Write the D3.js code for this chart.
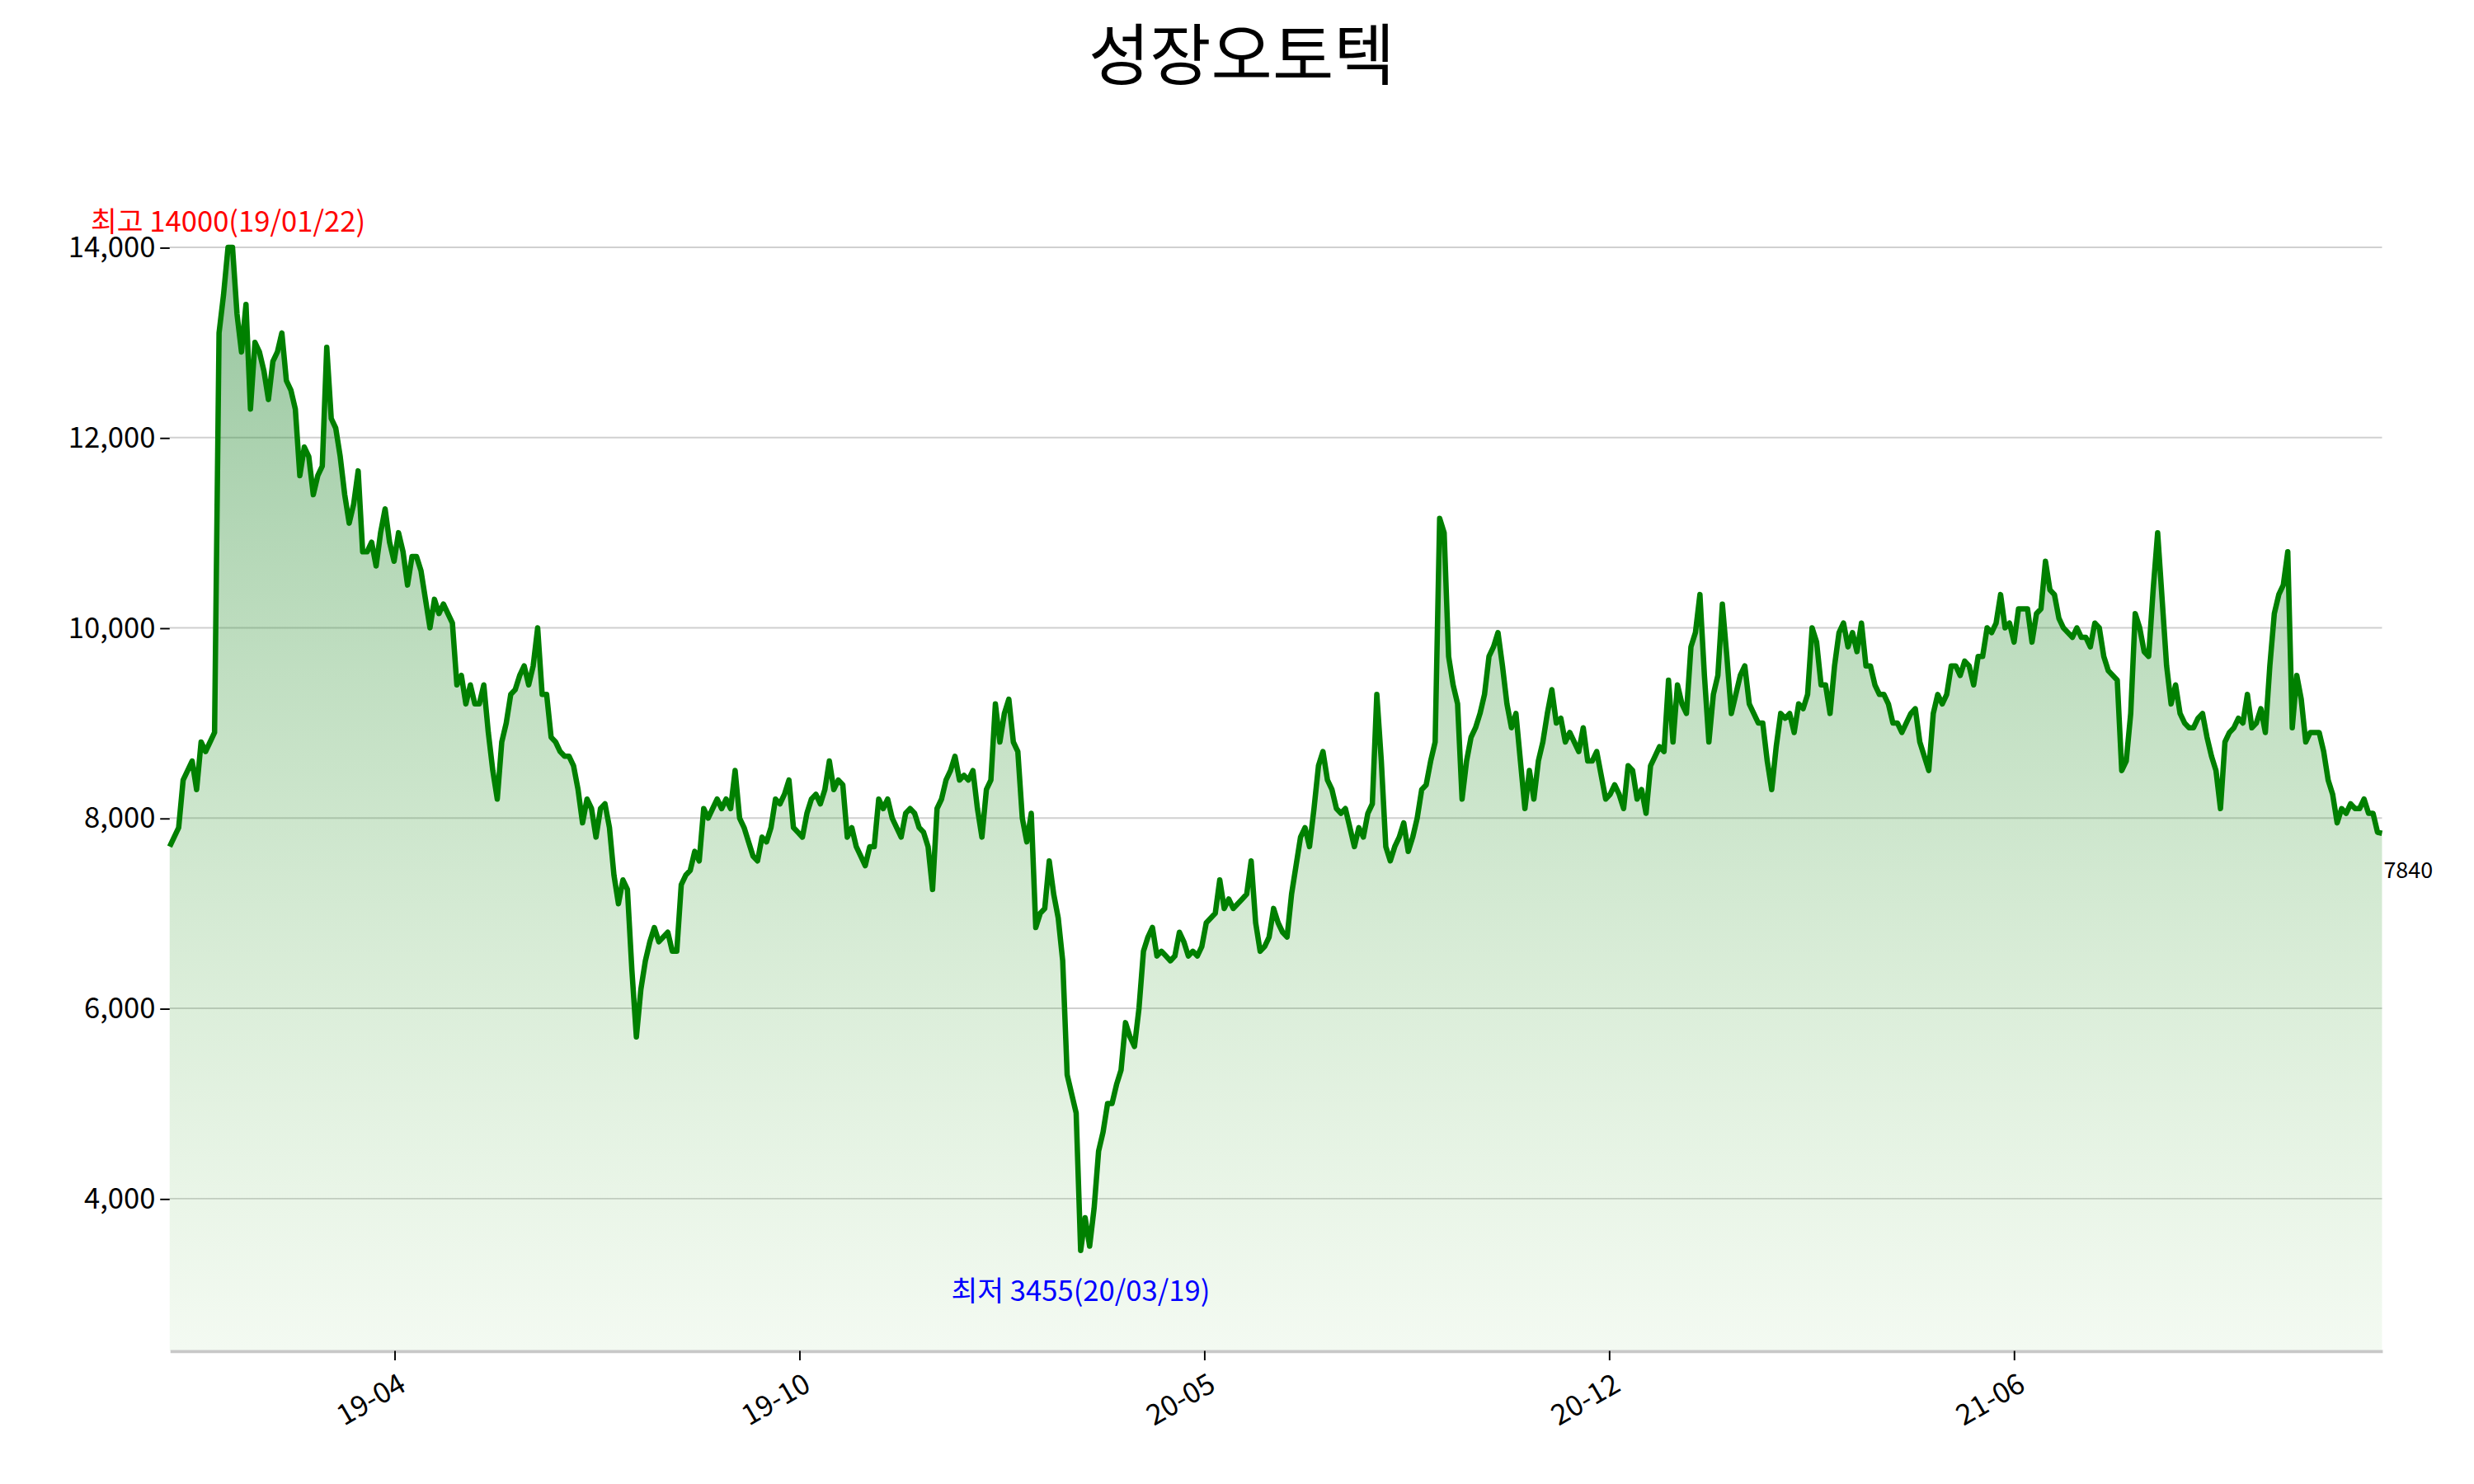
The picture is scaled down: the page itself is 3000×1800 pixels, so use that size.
<!DOCTYPE html>
<html>
<head>
<meta charset="utf-8">
<script src="https://cdn.jsdelivr.net/npm/d3@7"></script>
<style>
  body { margin: 0; background: #fff; }
  text { font-family: "Noto Sans CJK KR", "Noto Sans", sans-serif; }
</style>
</head>
<body>
<div id="chart"></div>
<script>
//chart data: daily close prices
var title = "성장오토텍";
var prices = [7700,7800,7900,8400,8500,8600,8300,8800,8700,8800,8900,13100,13500,14000,14000,13300,12900,13400,12300,13000,12900,12700,12400,12800,12900,13100,12600,12500,12300,11600,11900,11800,11400,11600,11700,12950,12200,12100,11800,11400,11100,11300,11650,10800,10800,10900,10650,11000,11250,10900,10700,11000,10800,10450,10750,10750,10600,10300,10000,10300,10150,10250,10150,10050,9400,9500,9200,9400,9200,9200,9400,8900,8500,8200,8800,9000,9300,9350,9500,9600,9400,9600,10000,9300,9300,8850,8800,8700,8650,8650,8550,8300,7950,8200,8100,7800,8100,8150,7900,7400,7100,7350,7250,6400,5700,6200,6500,6700,6850,6700,6750,6800,6600,6600,7300,7400,7450,7650,7550,8100,8000,8100,8200,8100,8200,8100,8500,8000,7900,7750,7600,7550,7800,7750,7900,8200,8150,8250,8400,7900,7850,7800,8050,8200,8250,8150,8300,8600,8300,8400,8350,7800,7900,7700,7600,7500,7700,7700,8200,8100,8200,8000,7900,7800,8050,8100,8050,7900,7850,7700,7250,8100,8200,8400,8500,8650,8400,8450,8400,8500,8100,7800,8300,8400,9200,8800,9100,9250,8800,8700,8000,7750,8050,6850,7000,7050,7550,7200,6950,6500,5300,5100,4900,3455,3800,3500,3900,4500,4700,5000,5000,5200,5350,5850,5700,5600,6000,6600,6750,6850,6550,6600,6550,6500,6550,6800,6700,6550,6600,6550,6650,6900,6950,7000,7350,7050,7150,7050,7100,7150,7200,7550,6900,6600,6650,6750,7050,6900,6800,6750,7200,7500,7800,7900,7700,8100,8550,8700,8400,8300,8100,8050,8100,7900,7700,7900,7800,8050,8150,9300,8600,7700,7550,7700,7800,7950,7650,7800,8000,8300,8350,8600,8800,11150,11000,9700,9400,9200,8200,8600,8850,8950,9100,9300,9700,9800,9950,9600,9200,8950,9100,8600,8100,8500,8200,8600,8800,9100,9350,9000,9050,8800,8900,8800,8700,8950,8600,8600,8700,8450,8200,8250,8350,8250,8100,8550,8500,8200,8300,8050,8550,8650,8750,8700,9450,8800,9400,9200,9100,9800,9950,10350,9500,8800,9300,9500,10250,9700,9100,9300,9500,9600,9200,9100,9000,9000,8600,8300,8750,9100,9050,9100,8900,9200,9150,9300,10000,9850,9400,9400,9100,9600,9950,10050,9800,9950,9750,10050,9600,9600,9400,9300,9300,9200,9000,9000,8900,9000,9100,9150,8800,8650,8500,9100,9300,9200,9300,9600,9600,9500,9650,9600,9400,9700,9700,10000,9950,10050,10350,10000,10050,9850,10200,10200,10200,9850,10150,10200,10700,10400,10350,10100,10000,9950,9900,10000,9900,9900,9800,10050,10000,9700,9550,9500,9450,8500,8600,9100,10150,10000,9750,9700,10400,11000,10300,9600,9200,9400,9100,9000,8950,8950,9050,9100,8850,8650,8500,8100,8800,8900,8950,9050,9000,9300,8950,9000,9150,8900,9600,10150,10350,10450,10800,8950,9500,9250,8800,8900,8900,8900,8700,8400,8250,7950,8100,8050,8150,8100,8100,8200,8050,8050,7850,7840];
var yTicks = [4000, 6000, 8000, 10000, 12000, 14000];
var xTickLabels = ["19-04", "19-10", "20-05", "20-12", "21-06"];
var xTickFracs = [0.1015, 0.2845, 0.4675, 0.6505, 0.8335]; //share of the series where each month starts
var maxLabel = "최고 14000(19/01/22)";
var minLabel = "최저 3455(20/03/19)";

//layout in picture units, scaled up to the 3000x1800 window
var W = 1560, H = 936;
var margin = {top: 156, right: 58, bottom: 84, left: 107};
var width = W - margin.left - margin.right,
    height = H - margin.top - margin.bottom;

var svg = d3.select("#chart").append("svg")
  .attr("width", 3000).attr("height", 1800)
  .attr("viewBox", "0 0 " + W + " " + H);

//gradient under the line
var grad = svg.append("defs").append("linearGradient")
  .attr("id", "fillGrad").attr("x1", 0).attr("y1", 0).attr("x2", 0).attr("y2", 1);
grad.append("stop").attr("offset", "0%").attr("stop-color", "#2e8b3e").attr("stop-opacity", 0.5);
grad.append("stop").attr("offset", "100%").attr("stop-color", "#6cbf5a").attr("stop-opacity", 0.08);

var g = svg.append("g").attr("transform", "translate(" + margin.left + "," + margin.top + ")");

var n = prices.length;
var x = d3.scaleLinear().domain([0, n - 1]).range([0, width]);
var y = d3.scaleLinear().domain([2400, 14000]).range([height, 0]);

//grid lines
g.append("g").selectAll("line").data(yTicks).enter().append("line")
  .attr("x1", 0).attr("x2", width)
  .attr("y1", function(d) { return y(d); }).attr("y2", function(d) { return y(d); })
  .attr("stroke", "#d0d0d0").attr("stroke-width", 1);

//area + line
g.append("path").datum(prices)
  .attr("fill", "url(#fillGrad)")
  .attr("d", d3.area()
    .x(function(d, i) { return x(i); })
    .y0(height)
    .y1(function(d) { return y(d); }));

g.append("path").datum(prices)
  .attr("fill", "none").attr("stroke", "green").attr("stroke-width", 3.4)
  .attr("stroke-linejoin", "round")
  .attr("d", d3.line()
    .x(function(d, i) { return x(i); })
    .y(function(d) { return y(d); }));

//Y axis
var yAxis = g.append("g")
  .call(d3.axisLeft(y).tickValues(yTicks).tickSize(6).tickFormat(d3.format(",")));
yAxis.select(".domain").remove();
yAxis.selectAll("text").attr("font-size", 18).attr("fill", "#000");

//X axis
var xAxis = g.append("g").attr("transform", "translate(0," + height + ")")
  .call(d3.axisBottom(x)
    .tickValues(xTickFracs.map(function(f) { return f * (n - 1); }))
    .tickSize(6)
    .tickSizeOuter(0)
    .tickFormat(function(d, i) { return xTickLabels[i]; }));
xAxis.select(".domain").attr("stroke", "#c8c8c8").attr("stroke-width", 2);
xAxis.selectAll("text")
  .attr("font-size", 18).attr("fill", "#000")
  .attr("text-anchor", "end")
  .attr("transform", "rotate(-30)")
  .attr("dx", "-0.3em").attr("dy", "0.9em");

//max / min / last annotations
var iMax = prices.indexOf(d3.max(prices));
var iMin = prices.indexOf(d3.min(prices));
g.append("text").attr("x", x(iMax)).attr("y", y(prices[iMax]) - 10)
  .attr("text-anchor", "middle").attr("font-size", 18).attr("fill", "red").text(maxLabel);
g.append("text").attr("x", x(iMin)).attr("y", y(prices[iMin]) + 32)
  .attr("text-anchor", "middle").attr("font-size", 18).attr("fill", "blue").text(minLabel);
g.append("text").attr("x", x(n - 1) + 1).attr("y", y(prices[n - 1]) + 28)
  .attr("font-size", 14).attr("fill", "#000").text(prices[n - 1]);

//title
svg.append("text").attr("x", 783).attr("y", 50)
  .attr("text-anchor", "middle").attr("font-size", 42).attr("fill", "#000").text(title);
</script>
</body>
</html>
